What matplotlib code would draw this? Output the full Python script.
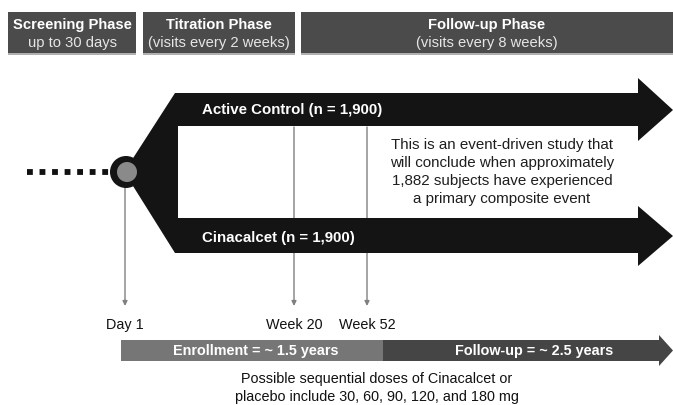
import matplotlib.pyplot as plt
from matplotlib.patches import Polygon, Rectangle, Circle

plt.rcParams['font.family'] = ['Liberation Sans', 'DejaVu Sans']

# --- content ---
phase_titles = ['Screening Phase', 'Titration Phase', 'Follow-up Phase']
phase_subtitles = ['up to 30 days', '(visits every 2 weeks)', '(visits every 8 weeks)']
arm_names = ['Active Control', 'Cinacalcet']
arm_n = ['1,900', '1,900']
milestones = ['Day 1', 'Week 20', 'Week 52']
period_labels = ['Enrollment = ~ 1.5 years', 'Follow-up = ~ 2.5 years']
event_note = ('This is an event-driven study that\nwill conclude when approximately\n'
              '1,882 subjects have experienced\na primary composite event')
dose_note = ('Possible sequential doses of Cinacalcet or\n'
             'placebo include 30, 60, 90, 120, and 180 mg')

# --- layout (pixel units of the 673x405 canvas) ---
W, H = 673, 405
phase_x = [(8, 136), (143, 295), (301, 673)]
milestone_x = [125, 294, 367]
dark = '#4b4b4b'

fig = plt.figure(figsize=(W / 100, H / 100), dpi=100)
ax = fig.add_axes([0, 0, 1, 1])
ax.set_xlim(0, W)
ax.set_ylim(H, 0)
ax.axis('off')

# header boxes
for (x0, x1), t, s in zip(phase_x, phase_titles, phase_subtitles):
    ax.add_patch(Rectangle((x0, 12), x1 - x0, 41, color=dark, lw=0))
    ax.add_patch(Rectangle((x0, 53), x1 - x0, 2, color='#b0b0b0', lw=0))
    xc = (x0 + x1) / 2
    ax.text(xc, 25, t, color='white', fontsize=10.6, fontweight='bold',
            ha='center', va='center')
    ax.text(xc, 43, s, color='#e6e6e6', fontsize=10.6, ha='center', va='center')

# milestone lines with arrows
for x, lab in zip(milestone_x, milestones):
    y0 = 188 if x == milestone_x[0] else 127
    ax.annotate('', xy=(x, 306), xytext=(x, y0),
                arrowprops=dict(arrowstyle='-|>', color='#808080', lw=1.0,
                                mutation_scale=7, shrinkA=0, shrinkB=0), zorder=1)
    ax.text(x, 325, lab, fontsize=10.4, color='#111111', ha='center', va='center')

# forked arms
fork = [(175, 93), (638, 93), (638, 78), (673, 110), (638, 141), (638, 126),
        (178, 126), (178, 218), (638, 218), (638, 206), (673, 236), (638, 266),
        (638, 253), (175, 253), (128, 178), (128, 166)]
ax.add_patch(Polygon(fork, closed=True, color='#141414', lw=0, zorder=2))

ax.text(202, 110, f'{arm_names[0]} (n = {arm_n[0]})', color='white', fontsize=10.8,
        fontweight='bold', va='center', zorder=3)
ax.text(202, 238, f'{arm_names[1]} (n = {arm_n[1]})', color='white', fontsize=10.8,
        fontweight='bold', va='center', zorder=3)

ax.text(502, 172, event_note, fontsize=10.9, color='#1e1e1e', ha='center',
        va='center', linespacing=1.34)

# screening dotted lead-in and randomisation node
ax.plot([27, 112], [172, 172], color='#111111', lw=4.2, ls=(0, (1.0, 1.15)),
        solid_capstyle='butt', zorder=2)
ax.add_patch(Circle((126, 172), 16, color='#141414', lw=0, zorder=4))
ax.add_patch(Circle((127, 172), 10, color='#8a8a8a', lw=0, zorder=5))

# bottom timeline
ax.add_patch(Rectangle((121, 340), 262, 21, color='#767676', lw=0))
ax.add_patch(Polygon([(383, 340), (659, 340), (659, 335), (673, 350.5),
                      (659, 366), (659, 361), (383, 361)], closed=True,
                     color='#454545', lw=0))
ax.text(256, 350.5, period_labels[0], color='white', fontsize=10.4,
        fontweight='bold', ha='center', va='center')
ax.text(534, 350.5, period_labels[1], color='white', fontsize=10.4,
        fontweight='bold', ha='center', va='center')

ax.text(377, 388, dose_note, fontsize=10.4, color='#111111', ha='center',
        va='center', linespacing=1.38)

fig.savefig('out.png', dpi=100)
